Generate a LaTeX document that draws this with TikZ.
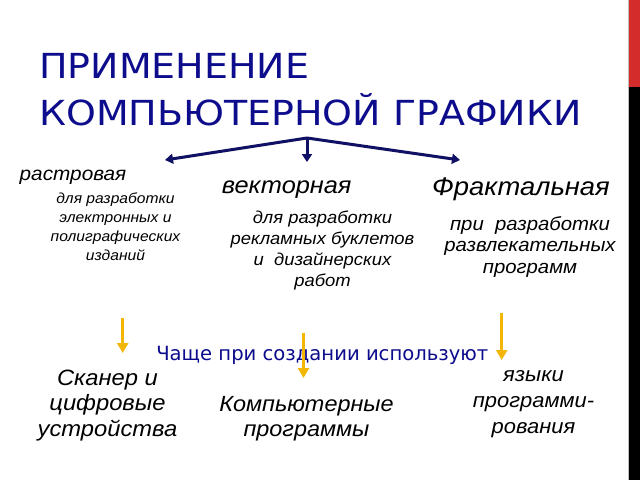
\documentclass[tikz,border=0pt]{standalone}
\usepackage{fontspec}
\setmainfont{Liberation Sans}
\newfontfamily\titlefont[FakeStretch=1.1]{DejaVu Sans}
\newfontfamily\capfont{DejaVu Sans}
\newfontfamily\bodyfont[FakeStretch=1.07]{Liberation Sans}
\usetikzlibrary{arrows.meta}
\definecolor{titleblue}{RGB}{12,12,140}
\definecolor{arrownavy}{RGB}{16,16,100}
\definecolor{gold}{RGB}{242,183,5}
\definecolor{barred}{RGB}{212,43,43}
\tikzset{
  txt/.style={inner sep=0pt, anchor=base, align=center, text=black},
  navyarrow/.style={draw=arrownavy, line width=3pt, -{Triangle[length=8pt,width=10pt]}},
  goldarrow/.style={draw=gold, line width=3pt, -{Triangle[length=10pt,width=11pt]}},
}
\newcommand{\fs}[2]{\fontsize{#1}{#2}\selectfont}
\begin{document}
\begin{tikzpicture}[x=1pt,y=-1pt]
\useasboundingbox (0,0) rectangle (640,480);
\fill[white] (0,0) rectangle (640,480);
% right bar
\fill[black] (629,0) rectangle (640,480);
\fill[barred] (629,0) rectangle (640,87);
\draw[gray!50, line width=0.8pt] (628.5,0) -- (628.5,480);
% title (base anchor = baseline of last line)
\node[inner sep=0pt, anchor=base west, align=left, text=titleblue,
      font={\titlefont\fs{34.5}{47}}] (title) at (39,125)
  {ПРИМЕНЕНИЕ\\КОМПЬЮТЕРНОЙ ГРАФИКИ};
% navy arrows
\coordinate (root) at (307,138);
\coordinate (tipL) at (165,160);
\coordinate (tipM) at (307,162);
\coordinate (tipR) at (460,160);
\draw[navyarrow] (root) -- (tipL);
\draw[navyarrow] (root) -- (tipM);
\draw[navyarrow] (root) -- (tipR);
% categories
\node[txt, font={\bodyfont\itshape\fs{19.4}{22}}] (raster) at (73,180) {растровая};
\node[txt, font={\bodyfont\itshape\fs{14.6}{19}}] (rasterdesc) at (115.5,260)
  {для разработки\\электронных и\\полиграфических\\изданий};
\node[txt, font={\bodyfont\itshape\fs{23.7}{26}}] (vector) at (286.7,193.3) {векторная};
\node[txt, font={\bodyfont\itshape\fs{17.2}{21.2}}] (vectordesc) at (322.5,286.7)
  {для разработки\\рекламных буклетов\\и\ \ дизайнерских\\работ};
\node[txt, font={\bodyfont\itshape\fs{25.6}{28}}] (fractal) at (521,195) {Фрактальная};
\node[txt, font={\bodyfont\itshape\fs{19}{21.6}}] (fractaldesc) at (530,273.3)
  {при\ \ разработки\\развлекательных\\программ};
% gold arrows
\coordinate (gLs) at (122.7,318);
\coordinate (gLe) at (122.7,353);
\coordinate (gMs) at (303.5,333);
\coordinate (gMe) at (303.5,378);
\coordinate (gRs) at (501.7,312.7);
\coordinate (gRe) at (501.7,360);
% caption
\node[inner sep=0pt, anchor=base, text=titleblue, font={\capfont\fs{19.6}{24}}] (caption) at (322.3,360)
  {Чаще при создании используют};
\draw[goldarrow] (gLs) -- (gLe);
\draw[goldarrow] (gMs) -- (gMe);
\draw[goldarrow] (gRs) -- (gRe);
% bottom
\node[txt, font={\bodyfont\itshape\fs{22.2}{25.8}}] (scanner) at (107.5,436.7)
  {Сканер и\\цифровые\\устройства};
\node[txt, font={\bodyfont\itshape\fs{21.9}{25}}] (progs) at (306.5,436.7)
  {Компьютерные\\программы};
\node[txt, font={\bodyfont\itshape\fs{20.5}{25.7}}] (langs) at (533.5,433)
  {языки\\программи-\\рования};
\end{tikzpicture}
\end{document}
